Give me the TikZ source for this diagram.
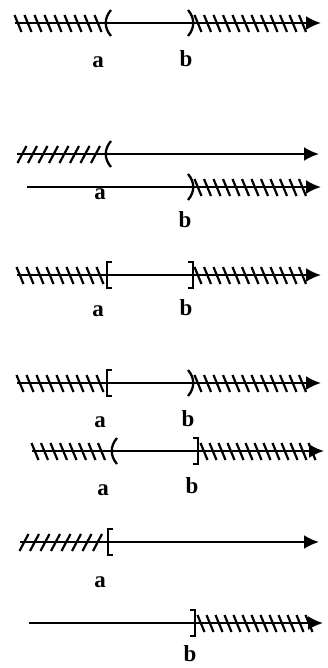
\documentclass[tikz,border=0pt]{standalone}
\usepackage{fontspec}
\setmainfont{Liberation Serif}
\usetikzlibrary{arrows.meta}
\tikzset{
  axis/.style={line width=2.3pt,-{Latex[length=15pt,width=14pt]}},
  hatchline/.style={line width=2.2pt},
  endmark/.style={line width=2.3pt},
  lbl/.style={font=\fontsize{23}{25}\selectfont\bfseries, inner sep=0pt},
}
% backslash hatches between x1 and x2 at height y (image coords)
\newcommand{\myBhatch}[4]{\foreach \hx in {#1,#2,...,#3}{\draw[hatchline] (\hx-3.5,#4-8) -- (\hx+3.5,#4+9);}}
\newcommand{\myFhatch}[4]{\foreach \hx in {#1,#2,...,#3}{\draw[hatchline] (\hx+4.5,#4-8) -- (\hx-4.5,#4+9);}}
\newcommand{\myLparen}[2]{\draw[endmark] (#1+4,#2-13) .. controls (#1-3,#2-5) and (#1-3,#2+5) .. (#1+4,#2+13);}
\newcommand{\myRparen}[2]{\draw[endmark] (#1-4,#2-13) .. controls (#1+3,#2-5) and (#1+3,#2+5) .. (#1-4,#2+13);}
\newcommand{\myLbrk}[2]{\draw[endmark] (#1+5,#2-13) -- (#1,#2-13) -- (#1,#2+13) -- (#1+5,#2+13);}
\newcommand{\myRbrk}[2]{\draw[endmark] (#1-5,#2-13) -- (#1,#2-13) -- (#1,#2+13) -- (#1-5,#2+13);}
\begin{document}
\begin{tikzpicture}[x=1pt,y=-1pt]
\useasboundingbox (0,0) rectangle (328,668);
% ---------- line 1
\coordinate (s1) at (15,23); \coordinate (e1) at (321,23);
\draw[axis] (s1) -- (e1);
\myBhatch{18}{28}{98}{23}
\myBhatch{198}{207.5}{310}{23}
\myLparen{107}{23}
\myRparen{192}{23}
\node[lbl] (a1) at (98,62) {a};
\node[lbl] (b1) at (186,59) {b};
% ---------- line 2
\coordinate (s2) at (17,154); \coordinate (e2) at (319,154);
\draw[axis] (s2) -- (e2);
\myFhatch{22}{32.5}{100}{154}
\myLparen{107}{154}
\coordinate (s2b) at (27,187); \coordinate (e2b) at (321,187);
\draw[axis] (s2b) -- (e2b);
\myBhatch{198}{207.5}{310}{187}
\myRparen{192}{187}
\node[lbl] (a2) at (100,194) {a};
\node[lbl] (b2) at (185,220) {b};
% ---------- line 3
\coordinate (s3) at (17,275); \coordinate (e3) at (321,275);
\draw[axis] (s3) -- (e3);
\myBhatch{20}{30}{100}{275}
\myBhatch{198}{207.5}{310}{275}
\myLbrk{107}{275}
\myRbrk{193}{275}
\node[lbl] (a3) at (98,311) {a};
\node[lbl] (b3) at (186,308) {b};
% ---------- line 4
\coordinate (s4) at (17,383); \coordinate (e4) at (321,383);
\draw[axis] (s4) -- (e4);
\myBhatch{20}{30}{100}{383}
\myBhatch{198}{207.5}{310}{383}
\myLbrk{107}{383}
\myRparen{192}{383}
\node[lbl] (a4) at (100,422) {a};
\node[lbl] (b4) at (188,419) {b};
% ---------- line 5
\coordinate (s5) at (32,451); \coordinate (e5) at (324,451);
\draw[axis] (s5) -- (e5);
\myBhatch{35}{44.5}{106}{451}
\myBhatch{204}{213}{313}{451}
\myLparen{113}{451}
\myRbrk{198}{451}
\node[lbl] (a5) at (103,490) {a};
\node[lbl] (b5) at (192,486) {b};
% ---------- line 6
\coordinate (s6) at (20,542); \coordinate (e6) at (319,542);
\draw[axis] (s6) -- (e6);
\myFhatch{24}{34.5}{100}{542}
\myLbrk{108}{542}
\node[lbl] (a6) at (100,582) {a};
% ---------- line 7
\coordinate (s7) at (29,623); \coordinate (e7) at (323,623);
\draw[axis] (s7) -- (e7);
\myBhatch{201}{210}{313}{623}
\myRbrk{195}{623}
\node[lbl] (b7) at (190,654) {b};
\end{tikzpicture}
\end{document}
